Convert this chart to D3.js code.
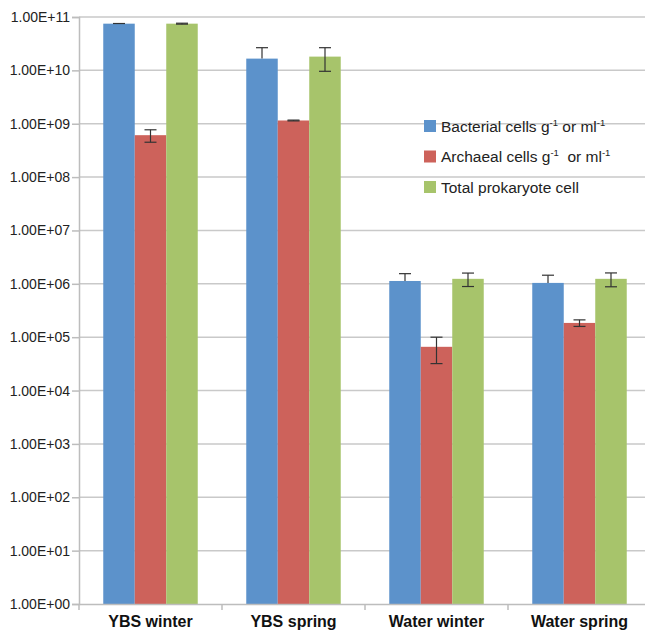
<!DOCTYPE html>
<html>
<head>
<meta charset="utf-8">
<script src="https://cdn.jsdelivr.net/npm/d3@7"></script>
<style>
  body { margin: 0; background: #fff; overflow: hidden; }
  text { font-family: "Liberation Sans", Arial, sans-serif; }
</style>
</head>
<body>
<div id="figure"></div>
<script>
'use strict';

const groups = ['YBS winter', 'YBS spring', 'Water winter', 'Water spring'];
const seriesNames = ['bacteria', 'archaea', 'total'];
const bacteria = [7.5e10, 1.66e10, 1.13e6, 1.04e6];
const bacteriaErr = [0.05e10, 1.0e10, 0.42e6, 0.41e6];
const archaea = [6.1e8, 1.15e9, 6.6e4, 1.85e5];
const archaeaErr = [1.6e8, 0.02e9, 3.4e4, 0.26e5];
const total = [7.5e10, 1.81e10, 1.24e6, 1.24e6];
const totalErr = [0.15e10, 0.85e10, 0.35e6, 0.36e6];
const yTicks = [1e0, 1e1, 1e2, 1e3, 1e4, 1e5, 1e6, 1e7, 1e8, 1e9, 1e10, 1e11];

function drawFigure() {
  const width = 645;
  const height = 632;
  const margin = { left: 79, right: -6, top: 17, bottom: 28 };

  const colors = { bacteria: '#5c92cb', archaea: '#cd625b', total: '#a7c46b' };
  const values = { bacteria: bacteria, archaea: archaea, total: total };
  const errs = { bacteria: bacteriaErr, archaea: archaeaErr, total: totalErr };

  const x = d3.scaleBand()
    .domain(groups)
    .range([margin.left, width - margin.right]);

  const xInner = d3.scaleBand()
    .domain(seriesNames)
    .range([0, x.bandwidth()])
    .paddingOuter(0.77);

  const y = d3.scaleLog()
    .domain([1, 1e11])
    .range([height - margin.bottom, margin.top]);

  const svg = d3.select('div#figure')
    .append('svg')
    .attr('width', width)
    .attr('height', height)
    .style('display', 'block');

  // gridlines
  svg.append('g')
    .selectAll('line')
    .data(yTicks.slice(1))
    .join('line')
    .attr('x1', margin.left)
    .attr('x2', width)
    .attr('y1', d => y(d))
    .attr('y2', d => y(d))
    .attr('stroke', '#c9c9c9')
    .attr('stroke-width', 1.5);

  // bars
  for (const s of seriesNames) {
    svg.append('g')
      .selectAll('rect')
      .data(groups.map((g, i) => ({ g: g, v: values[s][i] })))
      .join('rect')
      .attr('x', d => x(d.g) + xInner(s))
      .attr('width', xInner.bandwidth())
      .attr('y', d => y(d.v))
      .attr('height', d => y(1) - y(d.v))
      .attr('fill', colors[s]);
  }

  // error bars (bacteria shown plus only)
  for (const s of seriesNames) {
    const eg = svg.append('g').attr('stroke', '#333').attr('stroke-width', 1.2);
    groups.forEach((g, i) => {
      const v = values[s][i];
      const e = errs[s][i];
      const cx = x(g) + xInner(s) + xInner.bandwidth() / 2;
      const top = y(v + e);
      const bot = s === 'bacteria' ? y(v) : y(v - e);
      eg.append('line').attr('x1', cx).attr('x2', cx).attr('y1', top).attr('y2', bot);
      eg.append('line').attr('x1', cx - 6).attr('x2', cx + 6).attr('y1', top).attr('y2', top);
      if (s !== 'bacteria') {
        eg.append('line').attr('x1', cx - 6).attr('x2', cx + 6).attr('y1', bot).attr('y2', bot);
      }
    });
  }

  // y axis
  const yAxis = svg.append('g')
    .attr('transform', `translate(${margin.left},0)`)
    .call(d3.axisLeft(y)
      .tickValues(yTicks)
      .tickSize(7)
      .tickPadding(2)
      .tickFormat(d => d3.format('.2e')(d).toUpperCase().replace(/E([+-])(\d)$/, 'E$10$2')));
  yAxis.select('.domain').attr('stroke', '#bdbdbd').attr('stroke-width', 1.5);
  yAxis.selectAll('.tick line').attr('stroke', '#bdbdbd').attr('stroke-width', 1.5);
  yAxis.selectAll('.tick text')
    .attr('font-size', 14)
    .attr('fill', '#222')
    .style('font-family', '"Liberation Sans", Arial, sans-serif');

  // x axis
  const xAxis = svg.append('g')
    .attr('transform', `translate(0,${y(1)})`)
    .call(d3.axisBottom(x).tickSize(0).tickPadding(12));
  xAxis.select('.domain').attr('stroke', '#bdbdbd').attr('stroke-width', 1.5);
  xAxis.selectAll('.tick text')
    .attr('font-size', 16)
    .attr('font-weight', 'bold')
    .attr('fill', '#111')
    .style('font-family', '"Liberation Sans", Arial, sans-serif');
  svg.append('g')
    .selectAll('line')
    .data(groups)
    .join('line')
    .attr('x1', d => x(d))
    .attr('x2', d => x(d))
    .attr('y1', y(1))
    .attr('y2', y(1) + 6)
    .attr('stroke', '#bdbdbd')
    .attr('stroke-width', 1.5);

  // legend
  const legend = svg.append('g').attr('transform', 'translate(424,120)');
  const legendItems = [
    { s: 'bacteria', parts: ['Bacterial cells g', '-1', ' or ml', '-1'] },
    { s: 'archaea', parts: ['Archaeal cells g', '-1', '  or ml', '-1'] },
    { s: 'total', parts: ['Total prokaryote cell'] },
  ];
  legendItems.forEach((item, i) => {
    const row = legend.append('g').attr('transform', `translate(0,${i * 30.5})`);
    row.append('rect')
      .attr('width', 12)
      .attr('height', 12)
      .attr('fill', colors[item.s]);
    const t = row.append('text')
      .attr('x', 17)
      .attr('y', 11.5)
      .attr('font-size', 15.5)
      .attr('fill', '#222')
      .attr('xml:space', 'preserve')
      .style('white-space', 'pre');
    item.parts.forEach((p, j) => {
      const sup = j % 2 === 1;
      t.append('tspan')
        .attr('font-size', sup ? 9.5 : 15.5)
        .attr('dy', sup ? -6 : (j > 0 ? 6 : 0))
        .text(p);
    });
  });
}

drawFigure();
</script>
</body>
</html>
